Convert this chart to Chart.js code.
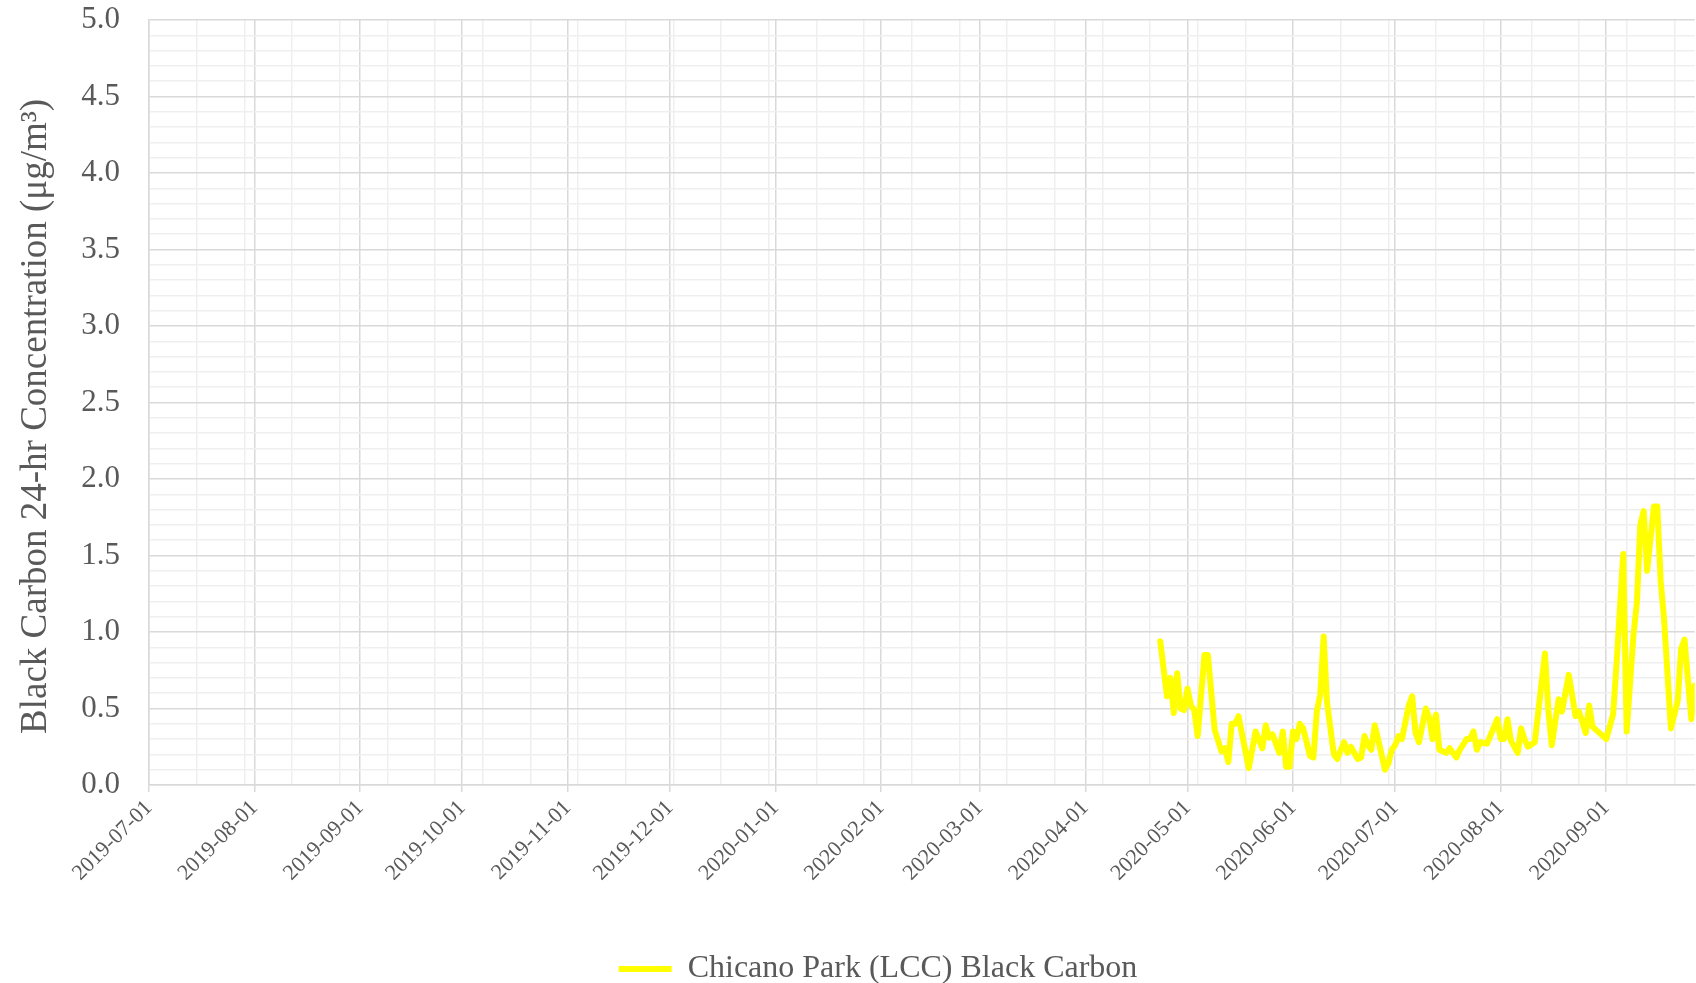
<!DOCTYPE html>
<html><head><meta charset="utf-8">
<script src="https://cdn.jsdelivr.net/npm/chart.js@4.4.1/dist/chart.umd.min.js"></script>
<style>html,body{margin:0;padding:0;background:#fff;}canvas{display:block}</style>
</head><body>
<canvas id="c" width="1696" height="983"></canvas>
<script>
const seriesName = 'Chicano Park (LCC) Black Carbon';
const yAxisTitle = 'Black Carbon 24-hr Concentration (μg/m³)\u00A0\u00A0\u00A0';
const axisStart = '2019-07-01';
const axisEnd = '2020-09-27';
const xTickLabels = ['2019-07-01','2019-08-01','2019-09-01','2019-10-01','2019-11-01','2019-12-01','2020-01-01','2020-02-01','2020-03-01','2020-04-01','2020-05-01','2020-06-01','2020-07-01','2020-08-01','2020-09-01'];
const minorDays = 14;
const yMin = 0, yMax = 5, yMajor = 0.5, yMinor = 0.1;

const dates = [
'2020-04-23','2020-04-25','2020-04-26','2020-04-27','2020-04-28','2020-04-29','2020-04-30',
'2020-05-01','2020-05-02','2020-05-03','2020-05-04','2020-05-06','2020-05-07','2020-05-09','2020-05-11','2020-05-12','2020-05-13','2020-05-14','2020-05-15','2020-05-16','2020-05-19','2020-05-21','2020-05-23','2020-05-24','2020-05-25','2020-05-26','2020-05-28','2020-05-29','2020-05-30','2020-05-31',
'2020-06-01','2020-06-02','2020-06-03','2020-06-04','2020-06-06','2020-06-07','2020-06-08','2020-06-09','2020-06-10','2020-06-11','2020-06-13','2020-06-14','2020-06-16','2020-06-17','2020-06-18','2020-06-20','2020-06-21','2020-06-22','2020-06-23','2020-06-24','2020-06-25','2020-06-26','2020-06-28','2020-06-29','2020-06-30',
'2020-07-01','2020-07-02','2020-07-03','2020-07-05','2020-07-06','2020-07-07','2020-07-08','2020-07-10','2020-07-11','2020-07-12','2020-07-13','2020-07-14','2020-07-16','2020-07-17','2020-07-19','2020-07-20','2020-07-22','2020-07-23','2020-07-24','2020-07-25','2020-07-26','2020-07-28','2020-07-31',
'2020-08-01','2020-08-02','2020-08-03','2020-08-04','2020-08-06','2020-08-07','2020-08-08','2020-08-09','2020-08-11','2020-08-12','2020-08-14','2020-08-15','2020-08-16','2020-08-18','2020-08-19','2020-08-21','2020-08-23','2020-08-24','2020-08-26','2020-08-27','2020-08-28',
'2020-09-01','2020-09-03','2020-09-04','2020-09-06','2020-09-07','2020-09-09','2020-09-10','2020-09-11','2020-09-12','2020-09-13','2020-09-15','2020-09-16','2020-09-17','2020-09-18','2020-09-20','2020-09-22','2020-09-23','2020-09-24','2020-09-26','2020-09-27','2020-09-28'
];
const values = [
0.94,0.58,0.70,0.47,0.73,0.50,0.49,
0.63,0.52,0.49,0.32,0.85,0.85,0.36,0.22,0.24,0.15,0.40,0.40,0.45,0.11,0.35,0.24,0.39,0.31,0.33,0.21,0.35,0.12,0.12,
0.35,0.30,0.40,0.37,0.19,0.18,0.48,0.59,0.97,0.54,0.20,0.17,0.28,0.21,0.25,0.17,0.18,0.32,0.26,0.23,0.39,0.30,0.10,0.14,0.23,
0.26,0.32,0.30,0.52,0.58,0.34,0.28,0.50,0.44,0.30,0.46,0.23,0.21,0.24,0.18,0.23,0.30,0.30,0.35,0.23,0.28,0.27,0.43,
0.30,0.30,0.43,0.29,0.21,0.37,0.30,0.25,0.28,0.47,0.86,0.49,0.26,0.56,0.48,0.72,0.45,0.48,0.34,0.52,0.38,
0.30,0.46,0.78,1.51,0.35,0.98,1.19,1.70,1.79,1.40,1.82,1.82,1.33,1.08,0.37,0.55,0.89,0.95,0.43,0.65,0.80
];

const FONT = "'Liberation Serif', 'Times New Roman', serif";
const TEXT = '#595959';
const MAJOR = '#D9D9D9';
const MINOR = '#EFEFEF';

const day0 = Date.UTC(2019, 6, 1);
const toDay = s => { const p = s.split('-').map(Number); return Math.round((Date.UTC(p[0], p[1]-1, p[2]) - day0) / 86400000); };
const xMin = toDay(axisStart), xMax = toDay(axisEnd);
const majorX = xTickLabels.map(toDay);
const minorX = [];
for (let v = xMin + minorDays; v <= xMax; v += minorDays) minorX.push(v);
const allX = Array.from(new Set(majorX.concat(minorX))).sort((a, b) => a - b);
const isMajorX = v => majorX.indexOf(v) >= 0;
const isMajorY = v => Math.abs(v / yMajor - Math.round(v / yMajor)) < 1e-6;

const legendShift = {
  id: 'legendShift',
  afterLayout(chart) { chart.legend.left += 30; chart.legend.right += 30; }
};

new Chart(document.getElementById('c'), {
  type: 'line',
  data: {
    datasets: [{
      label: seriesName,
      data: dates.map((d, i) => ({ x: toDay(d), y: values[i] })),
      borderColor: '#FFFF00',
      backgroundColor: '#FFFF00',
      borderWidth: 6,
      pointRadius: 0,
      tension: 0,
      borderJoinStyle: 'round',
      borderCapStyle: 'round',
      fill: false
    }]
  },
  options: {
    responsive: false,
    animation: false,
    devicePixelRatio: 1,
    layout: { padding: { left: 0, right: 0, top: 20, bottom: -12 } },
    plugins: {
      tooltip: { enabled: false },
      legend: {
        position: 'bottom',
        labels: {
          usePointStyle: true,
          pointStyle: 'line',
          pointStyleWidth: 53,
          padding: 0,
          color: TEXT,
          font: { family: FONT, size: 32 }
        }
      }
    },
    scales: {
      x: {
        type: 'linear',
        min: xMin,
        max: xMax,
        afterBuildTicks: s => { s.ticks = allX.map(v => ({ value: v })); },
        afterFit: s => { s.height = 168; },
        ticks: {
          autoSkip: false,
          minRotation: 45,
          maxRotation: 45,
          padding: 3,
          color: TEXT,
          font: { family: FONT, size: 22 },
          callback: v => { const i = majorX.indexOf(v); return i >= 0 ? xTickLabels[i] : ''; }
        },
        grid: {
          color: c => isMajorX(c.tick.value) ? MAJOR : MINOR,
          tickColor: c => isMajorX(c.tick.value) ? MAJOR : 'rgba(0,0,0,0)',
          lineWidth: 1.5,
          drawTicks: true,
          tickLength: 7
        },
        border: { color: MAJOR, width: 1.5 }
      },
      y: {
        min: yMin,
        max: yMax,
        afterFit: s => { s.width = 149; },
        ticks: {
          stepSize: yMinor,
          autoSkip: false,
          padding: 0,
          color: TEXT,
          font: { family: FONT, size: 31 },
          callback: v => isMajorY(v) ? v.toFixed(1) : ''
        },
        grid: {
          color: c => isMajorY(c.tick.value) ? MAJOR : MINOR,
          lineWidth: 1.5,
          drawTicks: true,
          tickLength: 29,
          tickColor: 'rgba(0,0,0,0)'
        },
        border: { color: MAJOR, width: 1.5 },
        title: {
          display: true,
          text: yAxisTitle,
          color: TEXT,
          font: { family: FONT, size: 37 },
          padding: { top: 14, bottom: 0 }
        }
      }
    }
  },
  plugins: [legendShift]
});
</script>
</body></html>
